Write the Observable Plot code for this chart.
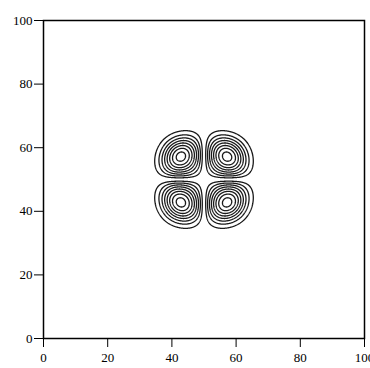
<!DOCTYPE html>
<html><head><meta charset="utf-8">
<script src="https://cdn.jsdelivr.net/npm/d3@7"></script>
<script src="https://cdn.jsdelivr.net/npm/@observablehq/plot@0.6"></script>
<style>body{margin:0;background:#fff;overflow:hidden}</style>
</head><body><div id="chart"></div>
<script>
// Tick values of both axes
const xTicks = [0, 20, 40, 60, 80, 100];
const yTicks = [0, 20, 40, 60, 80, 100];
// Field: four lobes around a common centre
const center = [50, 50];
const lobeOffset = [7.2];            // distance of each lobe peak from the centre axes (data units)
const decay = [0.2, 0.1, 0.1];       // quadratic, quartic and cross decay terms of the lobes
const levels = [0.11, 0.23, 0.35, 0.47, 0.59, 0.71, 0.83, 0.945]; // contour levels (peak = 1)

const field = (x, y) => {
  const u = Math.abs((x - center[0]) / lobeOffset[0]);
  const v = Math.abs((y - center[1]) / lobeOffset[0]);
  const [a, c, d] = decay;
  const e = -a * (u * u + v * v) - c * (u ** 4 + v ** 4) - d * u * u * v * v;
  return u * v * Math.exp(e + 2 * a + 2 * c + d);
};

const chart = Plot.plot({
  width: 370,
  height: 368,
  marginLeft: 43,
  marginRight: 6,
  marginTop: 20,
  marginBottom: 30,
  style: {fontFamily: "Liberation Serif", fontSize: "13px", color: "black", background: "white"},
  x: {domain: [0, 100], ticks: xTicks, tickSize: 9, tickPadding: 5, label: null},
  y: {domain: [0, 100], ticks: yTicks, tickSize: 9, tickPadding: 2, label: null},
  marks: [
    Plot.contour({
      x1: 0, y1: 0, x2: 100, y2: 100,
      value: field,
      thresholds: levels,
      pixelSize: 0.5,
      fill: "none",
      stroke: "#1a1a1a",
      strokeWidth: 1.3
    }),
    Plot.frame({stroke: "black", strokeWidth: 1.5})
  ]
});
document.getElementById("chart").appendChild(chart);
</script>
</body></html>
